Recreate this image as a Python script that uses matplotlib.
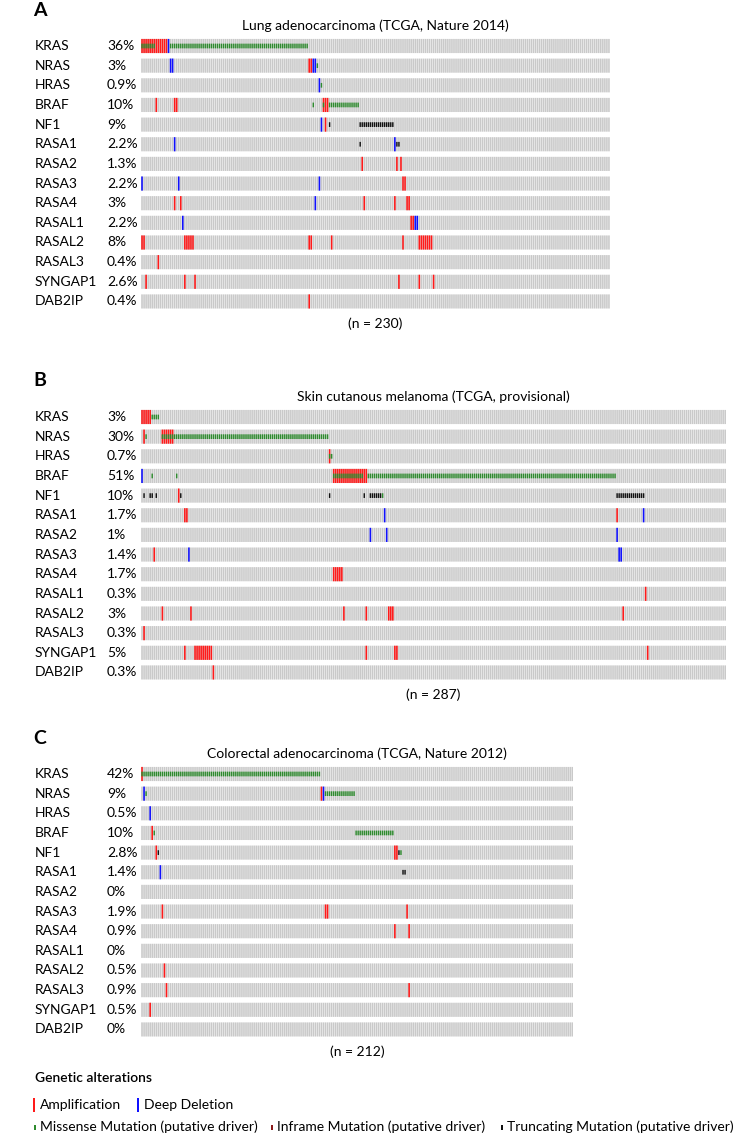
import matplotlib
matplotlib.use("Agg")
import matplotlib.pyplot as plt
from matplotlib.patches import Rectangle
from matplotlib.transforms import blended_transform_factory

plt.rcParams["font.family"] = ["Lato", "DejaVu Sans"]

GENES = ["KRAS", "NRAS", "HRAS", "BRAF", "NF1", "RASA1", "RASA2", "RASA3",
         "RASA4", "RASAL1", "RASAL2", "RASAL3", "SYNGAP1", "DAB2IP"]

# blocks of consecutive samples (first, last)

# --- A: lung adenocarcinoma, n = 230
LUAD_N = 230
LUAD_PCT = ["36%", "3%", "0.9%", "10%", "9%", "2.2%", "1.3%", "2.2%", "3%",
            "2.2%", "8%", "0.4%", "2.6%", "0.4%"]
LUAD_AMP = {
    "KRAS": [(0, 12)], "NRAS": [(82, 83)], "BRAF": [(7, 7), (16, 17), (89, 91)],
    "NF1": [(90, 90)], "RASA2": [(108, 108), (125, 125), (127, 127)],
    "RASA3": [(128, 129)], "RASA4": [(16, 16), (19, 19), (109, 109), (124, 124), (130, 131)],
    "RASAL1": [(132, 133)],
    "RASAL2": [(0, 1), (21, 25), (82, 83), (93, 93), (128, 128), (136, 142)],
    "RASAL3": [(8, 8)],
    "SYNGAP1": [(2, 2), (21, 21), (26, 26), (126, 126), (136, 136), (143, 143)],
    "DAB2IP": [(82, 82)],
}
LUAD_DEL = {
    "KRAS": [(13, 13)], "NRAS": [(14, 15), (84, 85)], "HRAS": [(87, 87)],
    "NF1": [(88, 88)], "RASA1": [(16, 16), (124, 124)],
    "RASA3": [(0, 0), (18, 18), (87, 87)], "RASA4": [(85, 85)],
    "RASAL1": [(20, 20), (134, 135)],
}
LUAD_MISSENSE = {
    "KRAS": [(0, 6), (14, 81)], "NRAS": [(86, 86)], "HRAS": [(88, 88)],
    "BRAF": [(84, 84), (89, 89), (92, 106)],
}
LUAD_TRUNC = {"NF1": [(92, 92), (107, 123)], "RASA1": [(107, 107), (125, 126)]}

# --- B: skin cutaneous melanoma, n = 287
SKCM_N = 287
SKCM_PCT = ["3%", "30%", "0.7%", "51%", "10%", "1.7%", "1%", "1.4%", "1.7%",
            "0.3%", "3%", "0.3%", "5%", "0.3%"]
SKCM_AMP = {
    "KRAS": [(0, 4)], "NRAS": [(1, 1), (10, 15)], "HRAS": [(92, 92)],
    "BRAF": [(94, 110)], "NF1": [(18, 18)], "RASA1": [(21, 22), (233, 233)],
    "RASA3": [(6, 6)], "RASA4": [(94, 98)], "RASAL1": [(247, 247)],
    "RASAL2": [(10, 10), (24, 24), (99, 99), (110, 110), (121, 123), (236, 236)],
    "RASAL3": [(1, 1)],
    "SYNGAP1": [(21, 21), (26, 34), (110, 110), (124, 125), (248, 248)],
    "DAB2IP": [(35, 35)],
}
SKCM_DEL = {
    "BRAF": [(0, 0)], "RASA1": [(119, 119), (246, 246)],
    "RASA2": [(112, 112), (120, 120), (233, 233)], "RASA3": [(23, 23), (234, 235)],
}
SKCM_MISSENSE = {
    "KRAS": [(5, 8)], "NRAS": [(2, 2), (10, 91)], "HRAS": [(92, 93)],
    "BRAF": [(5, 5), (17, 17), (94, 108), (111, 232)], "NF1": [(118, 118)],
}
SKCM_TRUNC = {
    "NF1": [(1, 1), (4, 5), (7, 7), (19, 19), (92, 92), (109, 109), (112, 117), (233, 246)],
}

# --- C: colorectal adenocarcinoma, n = 212
COAD_N = 212
COAD_PCT = ["42%", "9%", "0.5%", "10%", "2.8%", "1.4%", "0%", "1.9%", "0.9%",
            "0%", "0.5%", "0.9%", "0.5%", "0%"]
COAD_AMP = {
    "KRAS": [(0, 0)], "NRAS": [(88, 88)], "BRAF": [(5, 5)], "NF1": [(7, 7), (124, 125)],
    "RASA3": [(10, 10), (90, 91), (130, 130)], "RASA4": [(124, 124), (131, 131)],
    "RASAL2": [(11, 11)], "RASAL3": [(12, 12), (131, 131)], "SYNGAP1": [(4, 4)],
}
COAD_DEL = {"NRAS": [(1, 1), (89, 89)], "HRAS": [(4, 4)], "RASA1": [(9, 9)]}
COAD_MISSENSE = {
    "KRAS": [(0, 87)], "NRAS": [(2, 2), (90, 104)], "BRAF": [(6, 6), (105, 123)],
    "NF1": [(127, 127)],
}
COAD_TRUNC = {"NF1": [(8, 8), (126, 126)], "RASA1": [(128, 129)]}

GRAY = "#c9c9c9"
AMP_C = "#ff1a1a"
DEL_C = "#1010ff"
MIS_C = "#2e8b2e"
INF_C = "#8b1a1a"
TRU_C = "#111111"

W, H = 733, 1135
PITCH = 2.039
X0 = 141
STEP = 19.65
BAR_H = 0.72
MUT_H = 0.24
FS = 10

fig = plt.figure(figsize=(W / 100, H / 100), dpi=100)


def cells(blocks, w=0.78):
    out = []
    for a, b in blocks:
        for i in range(a, b + 1):
            out.append((i - w / 2, w))
    return out


def draw(ax, blocks, y, h, color, w=0.78):
    coll = ax.broken_barh(cells(blocks, w), (y, h), facecolors=color, linewidth=0)
    coll.set_snap(False)
    coll.set_antialiased(True)


def panel(letter, title, first_row_y, n, pct, amp, dele, mis, trunc):
    height = len(GENES) * STEP
    top = first_row_y - STEP / 2
    ax = fig.add_axes([X0 / W, 1 - (top + height) / H, n * PITCH / W, height / H])
    ax.set_xlim(-0.5, n - 0.5)
    ax.set_ylim(len(GENES) - 0.5, -0.5)
    ax.axis("off")
    lab = blended_transform_factory(fig.transFigure, ax.transData)
    for row, gene in enumerate(GENES):
        y0 = row - BAR_H / 2
        m0 = row - MUT_H / 2
        draw(ax, [(0, n - 1)], y0, BAR_H, GRAY)
        if gene in amp:
            draw(ax, amp[gene], y0, BAR_H, AMP_C)
        if gene in dele:
            draw(ax, dele[gene], y0, BAR_H, DEL_C)
        if gene in mis:
            draw(ax, mis[gene], m0, MUT_H, MIS_C, 0.7)
        if gene in trunc:
            draw(ax, trunc[gene], m0, MUT_H, TRU_C, 0.7)
        ax.text(35 / W, row, gene, transform=lab, va="center", ha="left", fontsize=FS, clip_on=False)
        ax.text(107 / W, row, pct[row], transform=lab, va="center", ha="left", fontsize=FS, clip_on=False)
    ctr = blended_transform_factory(ax.transAxes, ax.transData)
    ax.text(0.5, -1.02, title, transform=ctr, ha="center", va="center", fontsize=FS, clip_on=False)
    ax.text(0.5, len(GENES) - 1 + 1.15, f"(n = {n})", transform=ctr, ha="center", va="center",
            fontsize=FS, clip_on=False)
    fig.text(33 / W, 1 - (first_row_y - 36) / H, letter, fontsize=14, fontweight="bold",
             ha="left", va="center")


panel("A", "Lung adenocarcinoma (TCGA, Nature 2014)", 46, LUAD_N, LUAD_PCT,
      LUAD_AMP, LUAD_DEL, LUAD_MISSENSE, LUAD_TRUNC)
panel("B", "Skin cutanous melanoma (TCGA, provisional)", 417, SKCM_N, SKCM_PCT,
      SKCM_AMP, SKCM_DEL, SKCM_MISSENSE, SKCM_TRUNC)
panel("C", "Colorectal adenocarcinoma (TCGA, Nature 2012)", 774, COAD_N, COAD_PCT,
      COAD_AMP, COAD_DEL, COAD_MISSENSE, COAD_TRUNC)

# legend, laid out in pixel coordinates
leg = fig.add_axes([0, 0, 1, 1])
leg.set_xlim(0, W)
leg.set_ylim(H, 0)
leg.axis("off")
leg.text(35, 1078, "Genetic alterations", fontsize=FS, fontweight="semibold", va="center")
for x, color, label in [(34, AMP_C, "Amplification"), (138, DEL_C, "Deep Deletion")]:
    leg.add_patch(Rectangle((x - 1, 1098), 2.2, 14, color=color, lw=0))
    leg.text(x + 6, 1105, label, fontsize=FS, va="center")
for x, color, label in [(35, MIS_C, "Missense Mutation (putative driver)"),
                        (272, INF_C, "Inframe Mutation (putative driver)"),
                        (502, TRU_C, "Truncating Mutation (putative driver)")]:
    leg.add_patch(Rectangle((x - 1, 1124.5), 2, 5, color=color, lw=0))
    leg.text(x + 5, 1127, label, fontsize=FS, va="center")

fig.savefig("out.png", dpi=100)
